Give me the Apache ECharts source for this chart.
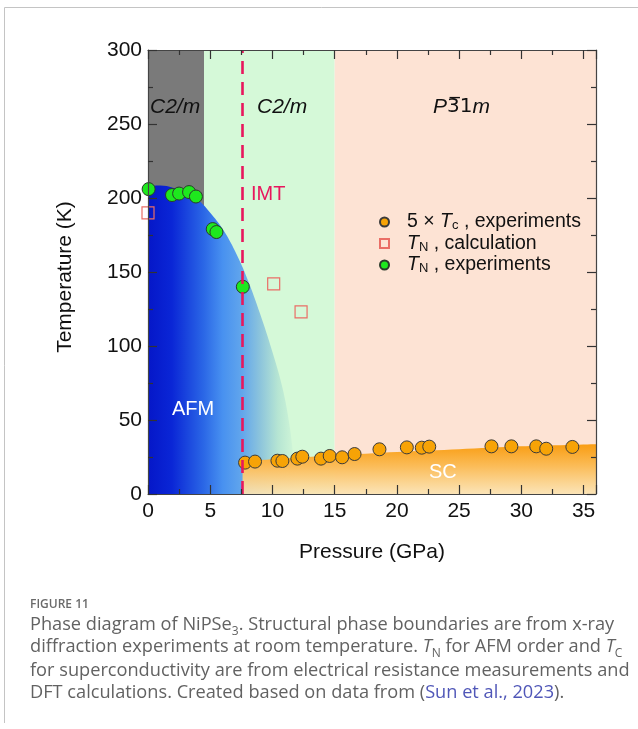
<!DOCTYPE html>
<html>
<head>
<meta charset="utf-8">
<title>Phase diagram of NiPSe3</title>
<script src="https://cdn.jsdelivr.net/npm/echarts@6/dist/echarts.min.js"></script>
<style>
  html, body { margin: 0; padding: 0; background: #ffffff; }
  #chart { width: 638px; height: 729px; }
</style>
</head>
<body>
<div id="chart"></div>
<script>
// Structural phases at room temperature: pressure bounds (GPa)
const phaseStart = [0, 4.5, 15];
const phaseEnd = [4.5, 15, 36];
const phaseColors = ['#7a7a7a', '#d5f9d8', '#fde3d4'];

// Insulator–metal transition pressure (GPa)
const imtPressure = 7.6;

// T_N, experiments (green circles)
const tnExpPressure = [0.05, 1.93, 2.5, 3.3, 3.85, 5.2, 5.5, 7.62];
const tnExpTemp = [206, 202, 203, 204, 201, 179, 177, 140];

// T_N, calculation (open squares)
const tnCalcPressure = [0.0, 10.1, 12.3];
const tnCalcTemp = [190, 142, 123];

// 5 x Tc, experiments (orange circles)
const tcPressure = [7.8, 8.6, 10.4, 10.8, 12.0, 12.4, 13.9, 14.6, 15.6, 16.6,
                    18.6, 20.8, 22.0, 22.6, 27.6, 29.2, 31.2, 32.0, 34.1];
const tc5Temp = [21.2, 21.9, 22.5, 22.3, 23.9, 25.2, 23.9, 25.7, 24.8, 27.0,
                 30.2, 31.5, 31.3, 32.0, 32.2, 32.2, 32.2, 30.6, 31.8];

// AFM phase boundary (shaded region)
const afmBoundaryPressure = [0, 1, 2, 3, 4, 5, 6, 7, 8, 9, 10, 10.8, 11.4, 11.8, 12];
const afmBoundaryTemp = [208, 208.5, 207, 204, 199, 190, 179, 164, 145, 122, 96, 72, 45, 15, 0];

// Superconducting region upper edge
const scBoundaryPressure = [7.6, 10, 15, 20, 25, 30, 36];
const scBoundaryTemp = [22, 23.5, 26, 28.3, 30.2, 32.2, 33.6];

const zip = (xs, ys) => xs.map((x, i) => [x, ys[i]]);

const FONT = 'Liberation Sans';
const CAP_FONT = 'Open Sans';
const CAP_SIZE = 18.2;
const CAP_COLOR = '#626262';

const chart = echarts.init(document.getElementById('chart'), null, { renderer: 'canvas' });

const axisLine = { show: true, onZero: false, lineStyle: { color: '#444', width: 1.2 } };
const majorTick = (len) => ({ show: true, inside: true, length: len, lineStyle: { color: '#333', width: 1.2 } });
const minorTick = { show: true, splitNumber: 2, length: 5, lineStyle: { color: '#333', width: 1.2 } };

const legendNames = {
  tc: '{sp| }{n|5 × }{i|T}{s|c}{n| , experiments}',
  tnCalc: '{sp| }{i|T}{s|N}{n| , calculation}',
  tnExp: '{sp| }{i|T}{s|N}{n| , experiments}'
};

const option = {
  animation: false,
  backgroundColor: '#ffffff',
  grid: { left: 148, right: 42, top: 50, bottom: 235, containLabel: false },
  xAxis: [
    {
      type: 'value', min: 0, max: 36, interval: 5, z: 10,
      name: 'Pressure (GPa)', nameLocation: 'middle', nameGap: 48,
      nameTextStyle: { fontSize: 21, color: '#111', fontFamily: FONT },
      axisLine, axisTick: majorTick(9), minorTick,
      axisLabel: { fontSize: 21, color: '#111', fontFamily: FONT, margin: 7, showMaxLabel: false },
      splitLine: { show: false }, minorSplitLine: { show: false }
    },
    {
      type: 'value', min: 0, max: 36, interval: 5, position: 'top', z: 10,
      axisLine, axisTick: majorTick(9), minorTick,
      axisLabel: { show: false },
      splitLine: { show: false }
    }
  ],
  yAxis: [
    {
      type: 'value', min: 0, max: 300, interval: 50, z: 10,
      name: 'Temperature (K)', nameLocation: 'middle', nameGap: 72, nameRotate: 90,
      nameTextStyle: { fontSize: 21, color: '#111', fontFamily: FONT, padding: [0, 10, 0, 0] },
      axisLine, axisTick: majorTick(9), minorTick,
      axisLabel: { fontSize: 21, color: '#111', fontFamily: FONT, margin: 6 },
      splitLine: { show: false }
    },
    {
      type: 'value', min: 0, max: 300, interval: 50, position: 'right', z: 10,
      axisLine, axisTick: majorTick(9), minorTick,
      axisLabel: { show: false },
      splitLine: { show: false }
    }
  ],
  legend: {
    left: 374, top: 207, orient: 'vertical', itemGap: 1.5,
    itemWidth: 9, itemHeight: 9,
    data: ['tc', 'tnCalc', 'tnExp'],
    formatter: (name) => legendNames[name],
    textStyle: {
      rich: {
        sp: { width: 13 },
        n: { fontSize: 19.5, color: '#111', fontFamily: FONT, lineHeight: 20, verticalAlign: 'top' },
        i: { fontSize: 19.5, color: '#111', fontFamily: FONT, fontStyle: 'italic', lineHeight: 20, verticalAlign: 'top' },
        s: { fontSize: 13, color: '#111', fontFamily: FONT, lineHeight: 13, verticalAlign: 'bottom' }
      }
    }
  },
  series: [
    {
      name: 'phases', type: 'line', data: [], z: 0,
      markArea: {
        silent: true,
        data: phaseStart.map((s, i) => [
          { xAxis: s, yAxis: 0, itemStyle: { color: phaseColors[i], opacity: 1 } },
          { xAxis: phaseEnd[i], yAxis: 300 }
        ])
      }
    },
    {
      name: 'afm', type: 'line', smooth: 0.4, symbol: 'none', z: 1,
      data: zip(afmBoundaryPressure, afmBoundaryTemp),
      lineStyle: { width: 0 },
      areaStyle: {
        opacity: 1,
        color: new echarts.graphic.LinearGradient(0, 0, 1, 0, [
          { offset: 0.0, color: '#0517c8' },
          { offset: 0.16, color: '#0a26d6' },
          { offset: 0.37, color: '#2a66e6' },
          { offset: 0.5, color: '#4891f0' },
          { offset: 0.63, color: '#62a6ec' },
          { offset: 0.75, color: '#8cc4dc' },
          { offset: 0.87, color: '#b6e5d3' },
          { offset: 1.0, color: '#d5f9d8' }
        ])
      }
    },
    {
      name: 'sc', type: 'line', smooth: 0.3, symbol: 'none', z: 1,
      data: zip(scBoundaryPressure, scBoundaryTemp),
      lineStyle: { width: 0 },
      areaStyle: {
        opacity: 1,
        color: new echarts.graphic.LinearGradient(0, 0, 0, 1, [
          { offset: 0, color: '#f99d12' },
          { offset: 0.45, color: '#fbbd5a' },
          { offset: 1, color: 'rgba(251,228,180,0.92)' }
        ])
      }
    },
    {
      name: 'imt', type: 'line', data: [], z: 6,
      markLine: {
        silent: true, symbol: ['none', 'none'],
        label: { show: false },
        lineStyle: { color: '#e8175d', width: 2.6, type: [13, 8] },
        data: [[{ coord: [imtPressure, 0] }, { coord: [imtPressure, 300] }]]
      }
    },
    {
      name: 'tc', type: 'scatter', z: 4, clip: false,
      data: zip(tcPressure, tc5Temp),
      symbol: 'circle', symbolSize: 13,
      itemStyle: { color: '#f7a306', borderColor: '#3a3a3a', borderWidth: 1, opacity: 1 }
    },
    {
      name: 'tnCalc', type: 'scatter', z: 4, clip: false,
      data: zip(tnCalcPressure, tnCalcTemp),
      symbol: 'rect', symbolSize: 12,
      itemStyle: { color: 'rgba(0,0,0,0)', borderColor: '#ea6e66', borderWidth: 1.2, opacity: 1 }
    },
    {
      name: 'tnExp', type: 'scatter', z: 4, clip: false,
      data: zip(tnExpPressure, tnExpTemp),
      symbol: 'circle', symbolSize: 13,
      itemStyle: { color: '#1ee81e', borderColor: '#2a3a2a', borderWidth: 1, opacity: 1 }
    }
  ],
  graphic: [
    // figure frame
    { type: 'line', shape: { x1: 4.5, y1: 7.5, x2: 638, y2: 7.5 }, style: { stroke: '#c4c4c4', lineWidth: 1 }, silent: true },
    { type: 'line', shape: { x1: 4.5, y1: 7.5, x2: 4.5, y2: 723 }, style: { stroke: '#c4c4c4', lineWidth: 1 }, silent: true },
    // phase labels
    { type: 'text', x: 150, y: 107, z: 10, style: { text: 'C2/m', fontSize: 21, fontStyle: 'italic', fontFamily: FONT, fill: '#111', verticalAlign: 'middle' } },
    { type: 'text', x: 257, y: 107, z: 10, style: { text: 'C2/m', fontSize: 21, fontStyle: 'italic', fontFamily: FONT, fill: '#111', verticalAlign: 'middle' } },
    { type: 'text', x: 433, y: 107, z: 10, style: {
        text: '{i|P}{n|3\u03051}{i|m}', verticalAlign: 'middle',
        rich: {
          i: { fontSize: 21, fontStyle: 'italic', fontFamily: FONT, fill: '#111' },
          n: { fontSize: 20, fontFamily: 'DejaVu Sans', fill: '#111' }
        }
      } },
    { type: 'text', x: 251, y: 194, z: 10, style: { text: 'IMT', fontSize: 20, fontFamily: FONT, fill: '#e8175d', verticalAlign: 'middle' } },
    { type: 'text', x: 172, y: 409, z: 10, style: { text: 'AFM', fontSize: 20, fontFamily: FONT, fill: '#ffffff', verticalAlign: 'middle' } },
    { type: 'text', x: 429, y: 472, z: 10, style: { text: 'SC', fontSize: 20, fontFamily: FONT, fill: '#ffffff', verticalAlign: 'middle' } },
    // caption
    { type: 'text', x: 30, y: 605, style: { text: 'FIGURE 11', fontSize: 12, fontWeight: 600, fontFamily: CAP_FONT, fill: '#6a6a6a', verticalAlign: 'middle' } },
    { type: 'text', x: 30, y: 627, style: {
        text: '{t|Phase diagram of NiPSe}{sub|3}{t|. Structural phase boundaries are from x-ray}',
        verticalAlign: 'middle',
        rich: {
          t: { fontSize: CAP_SIZE, fontFamily: CAP_FONT, fill: CAP_COLOR, lineHeight: 22, verticalAlign: 'top' },
          sub: { fontSize: 12, fontFamily: CAP_FONT, fill: CAP_COLOR, lineHeight: 13, verticalAlign: 'bottom' }
        }
      } },
    { type: 'text', x: 30, y: 649, style: {
        text: '{t|diffraction experiments at room temperature. }{it|T}{sub|N}{t| for AFM order and }{it|T}{sub|C}',
        verticalAlign: 'middle',
        rich: {
          t: { fontSize: CAP_SIZE, fontFamily: CAP_FONT, fill: CAP_COLOR, lineHeight: 22, verticalAlign: 'top' },
          it: { fontSize: CAP_SIZE, fontFamily: CAP_FONT, fontStyle: 'italic', fill: CAP_COLOR, lineHeight: 22, verticalAlign: 'top' },
          sub: { fontSize: 12, fontFamily: CAP_FONT, fill: CAP_COLOR, lineHeight: 13, verticalAlign: 'bottom' }
        }
      } },
    { type: 'text', x: 30, y: 671, style: { text: 'for superconductivity are from electrical resistance measurements and', fontSize: CAP_SIZE, fontFamily: CAP_FONT, fill: CAP_COLOR, verticalAlign: 'middle' } },
    { type: 'text', x: 30, y: 693, style: {
        text: '{t|DFT calculations. Created based on data from (}{a|Sun et al., 2023}{t|).}',
        verticalAlign: 'middle',
        rich: {
          t: { fontSize: CAP_SIZE, fontFamily: CAP_FONT, fill: CAP_COLOR },
          a: { fontSize: CAP_SIZE, fontFamily: CAP_FONT, fill: '#5057b8' }
        }
      } }
  ]
};

chart.setOption(option);
</script>
</body>
</html>
